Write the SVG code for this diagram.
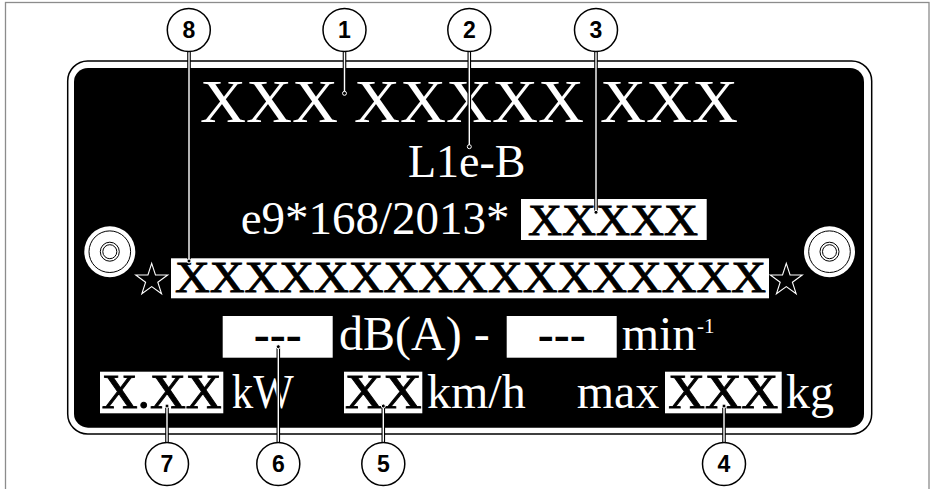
<svg xmlns="http://www.w3.org/2000/svg" width="931" height="489" viewBox="0 0 931 489">
<style>
.frame{fill:none;stroke:#8c8c8c;stroke-width:1.3}
.pt{font-family:"Liberation Serif","Times New Roman",serif;fill:#fff}
.bt{font-family:"Liberation Serif","Times New Roman",serif;fill:#000}
.bx{stroke:#000;stroke-width:0.9}
.box{fill:#fff}
.star{fill:none;stroke:#fff;stroke-width:1.1;stroke-linejoin:miter}
.scr{fill:none;stroke:#000;stroke-width:1}
.lo{fill:none;stroke:#000;stroke-width:3.6}
.li{fill:none;stroke:#fff;stroke-width:1.4}
.dot{fill:#000;stroke:#fff;stroke-width:1}
.cc{fill:#fff;stroke:#000;stroke-width:1.5}
.cn{font-family:"Liberation Sans",Arial,sans-serif;font-weight:bold;font-size:23px;fill:#000;text-anchor:middle}
</style>
<defs>
<polygon id="star" points="0,-16.8 3.77,-5.19 15.98,-5.19 6.1,1.98 9.87,13.59 0,6.42 -9.87,13.59 -6.1,1.98 -15.98,-5.19 -3.77,-5.19"/>
<g id="screw">
<circle r="25.5" fill="#fff"/>
<circle r="20.8" class="scr"/>
<circle r="9.5" class="scr"/>
<circle r="7" class="scr"/>
</g>
</defs>
<rect class="frame" x="5.5" y="2.5" width="923.5" height="520"/>
<g id="plate">
<rect x="67.7" y="61" width="804" height="373" rx="20" ry="20" fill="#fff" stroke="#000" stroke-width="1.5"/>
<rect x="74" y="68" width="790" height="359.7" rx="14" ry="14" fill="#000"/>
<use href="#screw" x="109.8" y="251.7"/>
<use href="#screw" x="829.5" y="251.7"/>
<use href="#star" x="151.7" y="280.2" class="star"/>
<use href="#star" x="786.3" y="280.2" class="star"/>
<text class="pt" x="200" y="121.7" font-size="62" textLength="538" lengthAdjust="spacingAndGlyphs">XXX XXXXX XXX</text>
<text class="pt" x="408" y="176.7" font-size="46">L1e-B</text>
<text class="pt" x="240.7" y="234" font-size="47">e9*168/2013*</text>
<rect class="box" x="521" y="199" width="185.7" height="41"/>
<text class="bt bx" x="528" y="235" font-size="45" textLength="170" lengthAdjust="spacingAndGlyphs">XXXXX</text>
<rect class="box" x="171" y="258.3" width="598" height="40"/>
<text class="bt bx" x="175" y="291.7" font-size="44" textLength="591" lengthAdjust="spacingAndGlyphs">XXXXXXXXXXXXXXXXX</text>
<rect class="box" x="222.7" y="316" width="110" height="41.7"/>
<text class="bt" x="277.7" y="350" font-size="48" font-weight="bold" text-anchor="middle">---</text>
<text class="pt" x="339" y="350" font-size="48">dB(A) -</text>
<rect class="box" x="506.7" y="316" width="110" height="41.7"/>
<text class="bt" x="561.7" y="350" font-size="48" font-weight="bold" text-anchor="middle">---</text>
<text class="pt" x="621.7" y="350" font-size="48">min</text>
<text class="pt" x="697" y="333" font-size="21">-1</text>
<rect class="box" x="100" y="371.7" width="123.3" height="41.6"/>
<text class="bt bx" x="101.7" y="408.3" font-size="48" textLength="120" lengthAdjust="spacingAndGlyphs">X.XX</text>
<text class="pt" x="231.7" y="408.3" font-size="48" textLength="62" lengthAdjust="spacingAndGlyphs">kW</text>
<rect class="box" x="344" y="371.7" width="78.3" height="41.6"/>
<text class="bt bx" x="345" y="408.3" font-size="48" textLength="76.7" lengthAdjust="spacingAndGlyphs">XX</text>
<text class="pt" x="427" y="408.3" font-size="48">km/h</text>
<text class="pt" x="576.7" y="408.3" font-size="48">max</text>
<rect class="box" x="665" y="371.7" width="116.7" height="41.6"/>
<text class="bt bx" x="668.3" y="408.3" font-size="48" textLength="110" lengthAdjust="spacingAndGlyphs">XXX</text>
<text class="pt" x="786" y="408.3" font-size="48">kg</text>
</g>
<g id="connectors">
<path class="lo" d="M189,51.5V261 M344.5,51.5V93.3 M469.3,51.5V146.7 M596,51.5V212.3 M167,406V442.5 M278.3,346.7V442.5 M383.3,406V442.5 M724,406V442.5"/>
<path class="li" d="M189,51.5V261 M344.5,51.5V93.3 M469.3,51.5V146.7 M596,51.5V212.3 M167,406V442.5 M278.3,346.7V442.5 M383.3,406V442.5 M724,406V442.5"/>
<circle class="dot" cx="189" cy="261" r="2"/>
<circle class="dot" cx="344.5" cy="93.3" r="2"/>
<circle class="dot" cx="469.3" cy="146.7" r="2"/>
<circle class="dot" cx="596" cy="212.3" r="2"/>
<circle class="dot" cx="167" cy="406" r="2"/>
<circle class="dot" cx="278.3" cy="346.7" r="2"/>
<circle class="dot" cx="383.3" cy="406" r="2"/>
<circle class="dot" cx="724" cy="406" r="2"/>
</g>
<g id="c8"><circle class="cc" cx="188.8" cy="30" r="21.5"/><text class="cn" x="188.8" y="38.3">8</text></g>
<g id="c1"><circle class="cc" cx="344.5" cy="30" r="21.5"/><text class="cn" x="344.5" y="38.3">1</text></g>
<g id="c2"><circle class="cc" cx="469.3" cy="30" r="21.5"/><text class="cn" x="469.3" y="38.3">2</text></g>
<g id="c3"><circle class="cc" cx="596" cy="30" r="21.5"/><text class="cn" x="596" y="38.3">3</text></g>
<g id="c7"><circle class="cc" cx="167" cy="464" r="21.5"/><text class="cn" x="167" y="472.3">7</text></g>
<g id="c6"><circle class="cc" cx="278.3" cy="464" r="21.5"/><text class="cn" x="278.3" y="472.3">6</text></g>
<g id="c5"><circle class="cc" cx="383.3" cy="464" r="21.5"/><text class="cn" x="383.3" y="472.3">5</text></g>
<g id="c4"><circle class="cc" cx="724" cy="464" r="21.5"/><text class="cn" x="724" y="472.3">4</text></g>
</svg>
